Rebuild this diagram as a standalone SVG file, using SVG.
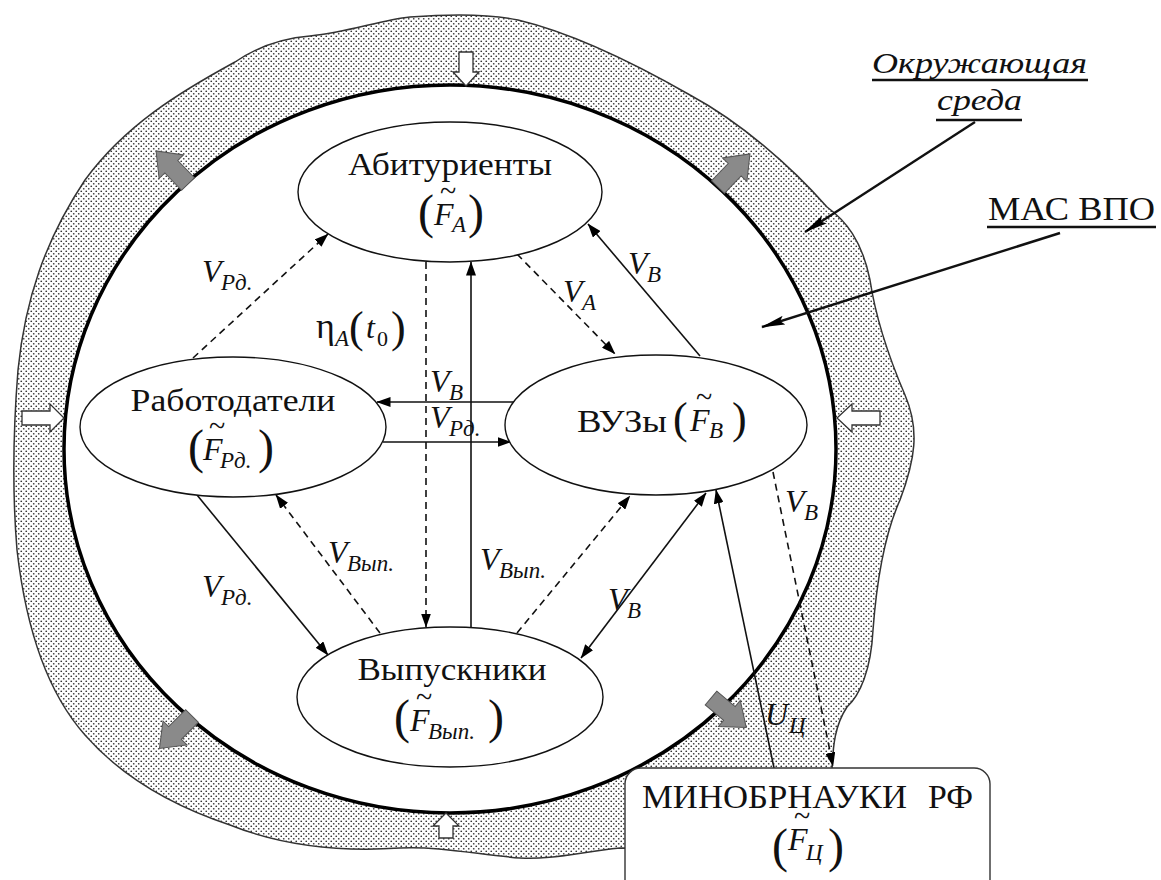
<svg xmlns="http://www.w3.org/2000/svg" width="1161" height="880" viewBox="0 0 1161 880" font-family="'Liberation Serif','DejaVu Serif',serif">
<style>
.t{font-family:"Liberation Serif","DejaVu Serif",serif;fill:#111}
.n{font-size:32px}
.i{font-style:italic;font-size:32px}
.s{font-style:italic;font-size:23px}
.u{font-size:22px}
.p{font-size:48px}
.pm{font-size:44px}
.tl{font-size:30px}
.c{stroke:#111;stroke-width:1.6;fill:none}
.d{stroke-dasharray:7 5}
.node{fill:#fff;stroke:#111;stroke-width:1.4}
.wa{fill:#fff;stroke:#333;stroke-width:1.3}
.ga{fill:#8a8a8a;stroke:#555;stroke-width:1}
.ld{stroke:#111;stroke-width:2.4;fill:none}
.ul{stroke:#111;stroke-width:2.6}
</style>
<defs>
<pattern id="dots" width="5" height="5" patternUnits="userSpaceOnUse">
<rect width="5" height="5" fill="#fff"/>
<circle cx="1.25" cy="1.25" r="0.85" fill="#333"/>
<circle cx="3.75" cy="3.75" r="0.85" fill="#333"/>
</pattern>
<marker id="ah" viewBox="0 0 14 10" refX="13.5" refY="5" markerWidth="14" markerHeight="10" markerUnits="userSpaceOnUse" orient="auto-start-reverse">
<path d="M0,0 L14,5 L0,10 z" fill="#000"/>
</marker>
<marker id="lh" viewBox="0 0 24 10" refX="23" refY="5" markerWidth="24" markerHeight="10" markerUnits="userSpaceOnUse" orient="auto">
<path d="M0,0.5 L24,5 L0,9.5 L4,5 z" fill="#000"/>
</marker>
<path id="gray" d="M0,-9 L24,-9 L24,-17 L46,0 L24,17 L24,9 L0,9 Z"/>
</defs>

<g id="environment">
<path d="M410,17 C450,14 490,14 518,20 C560,30 620,55 690,95 C740,122 790,165 827,207 C845,220 862,240 870,280 C876,320 890,360 905,395 C920,430 915,460 900,500 C882,540 876,590 873,630 C871,670 860,695 847,707 C835,725 833,745 832,770 L832,850 L620,848 C580,852 550,860 520,858 C480,855 440,846 400,848 C340,852 280,845 230,825 C170,805 120,775 85,735 C45,690 25,620 17,550 C12,490 14,420 18,370 C25,300 45,240 85,180 C125,125 180,92 235,62 C260,45 285,38 310,36 C350,32 380,20 410,17 Z" fill="url(#dots)" stroke="#333" stroke-width="1.5"/>
</g>

<g id="mas-vpo">
<ellipse cx="450" cy="449" rx="386" ry="364" fill="#fff" stroke="#000" stroke-width="3.5"/>
</g>

<g id="boundary-arrows">
<polygon class="wa" points="459,52 473,52 473,72 479,72 466,86 453,72 459,72"/>
<polygon class="wa" points="22,411 50,411 50,404 64,418 50,432 50,425 22,425"/>
<polygon class="wa" points="880,411 852,411 852,404 837,418 852,432 852,425 880,425"/>
<polygon class="wa" points="439,838 453,838 453,826 459,826 446,813 433,826 439,826"/>
<use href="#gray" class="ga" transform="translate(188,184) rotate(-134)"/>
<use href="#gray" class="ga" transform="translate(718,187) rotate(-46)"/>
<use href="#gray" class="ga" transform="translate(192,716) rotate(135)"/>
<use href="#gray" class="ga" transform="translate(711,698) rotate(40)"/>
</g>

<g id="connectors">
<line class="c d" x1="426" y1="262" x2="426" y2="627" marker-end="url(#ah)"/>
<line class="c" x1="471" y1="627" x2="471" y2="262" marker-end="url(#ah)"/>
<line class="c d" x1="517" y1="254" x2="615" y2="354" marker-end="url(#ah)"/>
<line class="c" x1="700" y1="356" x2="588" y2="224" marker-end="url(#ah)"/>
<line class="c d" x1="193" y1="358" x2="328" y2="234" marker-end="url(#ah)"/>
<line class="c" x1="514" y1="402" x2="377" y2="402" marker-end="url(#ah)"/>
<line class="c" x1="383" y1="442" x2="511" y2="442" marker-end="url(#ah)"/>
<line class="c" x1="197" y1="495" x2="328" y2="655" marker-end="url(#ah)"/>
<line class="c d" x1="380" y1="633" x2="276" y2="495" marker-end="url(#ah)"/>
<line class="c d" x1="517" y1="633" x2="630" y2="496" marker-end="url(#ah)"/>
<line class="c" x1="581" y1="658" x2="706" y2="493" marker-start="url(#ah)" marker-end="url(#ah)"/>
<line class="c" x1="774" y1="768" x2="716" y2="490" marker-end="url(#ah)"/>
<line class="c d" x1="773" y1="472" x2="833" y2="766" marker-end="url(#ah)"/>
<line class="ld" x1="975" y1="122" x2="805" y2="232" marker-end="url(#lh)"/>
<line class="ld" x1="1060" y1="233" x2="762" y2="327" marker-end="url(#lh)"/>
</g>

<g id="node-abiturienty">
<ellipse class="node" cx="450" cy="192" rx="152" ry="70"/>
<text class="t n" x="450" y="175" text-anchor="middle" textLength="204" lengthAdjust="spacingAndGlyphs">Абитуриенты</text>
<text class="t p" x="418" y="228">(</text>
<text class="t i" x="434" y="225">F</text>
<text class="t tl" x="448" y="201" text-anchor="middle">~</text>
<text class="t s" x="452" y="232">A</text>
<text class="t p" x="468" y="228">)</text>
</g>

<g id="node-rabotodateli">
<ellipse class="node" cx="233" cy="427" rx="153" ry="70"/>
<text class="t n" x="233" y="411" text-anchor="middle" textLength="205" lengthAdjust="spacingAndGlyphs">Работодатели</text>
<text class="t p" x="188" y="463">(</text>
<text class="t i" x="203" y="460">F</text>
<text class="t tl" x="217" y="436" text-anchor="middle">~</text>
<text class="t s" x="220" y="468">Pд.</text>
<text class="t p" x="258" y="463">)</text>
</g>

<g id="node-vuzy">
<ellipse class="node" cx="656" cy="425" rx="151" ry="70"/>
<text class="t n" x="577" y="432" textLength="90" lengthAdjust="spacingAndGlyphs">ВУЗы</text>
<text class="t pm" x="673" y="433">(</text>
<text class="t i" x="690" y="431">F</text>
<text class="t tl" x="704" y="407" text-anchor="middle">~</text>
<text class="t s" x="709" y="438">B</text>
<text class="t pm" x="732" y="433">)</text>
</g>

<g id="node-vypuskniki">
<ellipse class="node" cx="450" cy="697" rx="153" ry="70"/>
<text class="t n" x="452" y="680" text-anchor="middle" textLength="189" lengthAdjust="spacingAndGlyphs">Выпускники</text>
<text class="t p" x="394" y="733">(</text>
<text class="t i" x="410" y="731">F</text>
<text class="t tl" x="424" y="707" text-anchor="middle">~</text>
<text class="t s" x="428" y="739">Вып.</text>
<text class="t p" x="488" y="733">)</text>
</g>

<g id="node-minobrnauki">
<rect x="625" y="768" width="365" height="135" rx="16" fill="#fff" stroke="#333" stroke-width="1.4"/>
<text class="t" x="642" y="808" font-size="33" textLength="265" lengthAdjust="spacingAndGlyphs">МИНОБРНАУКИ</text>
<text class="t" x="928" y="808" font-size="33" textLength="45" lengthAdjust="spacingAndGlyphs">РФ</text>
<text class="t p" x="772" y="862">(</text>
<text class="t i" x="788" y="850">F</text>
<text class="t tl" x="802" y="826" text-anchor="middle">~</text>
<text class="t s" x="806" y="860">Ц</text>
<text class="t p" x="828" y="862">)</text>
</g>

<g id="labels">
<text class="t" x="316" y="338" font-size="36">η</text>
<text class="t s" x="335" y="346">A</text>
<text class="t pm" x="349" y="342">(</text>
<text class="t i" x="366" y="338">t</text>
<text class="t u" x="377" y="346">0</text>
<text class="t pm" x="391" y="342">)</text>

<text class="t i" x="202" y="282">V</text><text class="t s" x="221" y="290">Pд.</text>
<text class="t i" x="563" y="302">V</text><text class="t s" x="582" y="310">A</text>
<text class="t i" x="628" y="274">V</text><text class="t s" x="647" y="282">B</text>
<text class="t i" x="430" y="392">V</text><text class="t s" x="449" y="400">B</text>
<text class="t i" x="430" y="428">V</text><text class="t s" x="449" y="436">Pд.</text>
<text class="t i" x="202" y="597">V</text><text class="t s" x="221" y="605">Pд.</text>
<text class="t i" x="328" y="563">V</text><text class="t s" x="347" y="571">Вып.</text>
<text class="t i" x="480" y="570">V</text><text class="t s" x="499" y="578">Вып.</text>
<text class="t i" x="608" y="610">V</text><text class="t s" x="627" y="618">B</text>
<text class="t i" x="785" y="512">V</text><text class="t s" x="804" y="520">B</text>
<text class="t i" x="765" y="725">U</text><text class="t s" x="789" y="733">Ц</text>
</g>

<g id="captions">
<text class="t" x="872" y="73" font-size="30" font-style="italic" textLength="215" lengthAdjust="spacingAndGlyphs">Окружающая</text>
<line class="ul" x1="872" y1="80" x2="1088" y2="80"/>
<text class="t" x="937" y="110" font-size="30" font-style="italic" textLength="85" lengthAdjust="spacingAndGlyphs">среда</text>
<line class="ul" x1="936" y1="120" x2="1022" y2="120"/>
<text class="t" x="988" y="220" font-size="34" textLength="167" lengthAdjust="spacingAndGlyphs">МАС ВПО</text>
<line class="ul" x1="987" y1="227" x2="1156" y2="227"/>
</g>
</svg>
